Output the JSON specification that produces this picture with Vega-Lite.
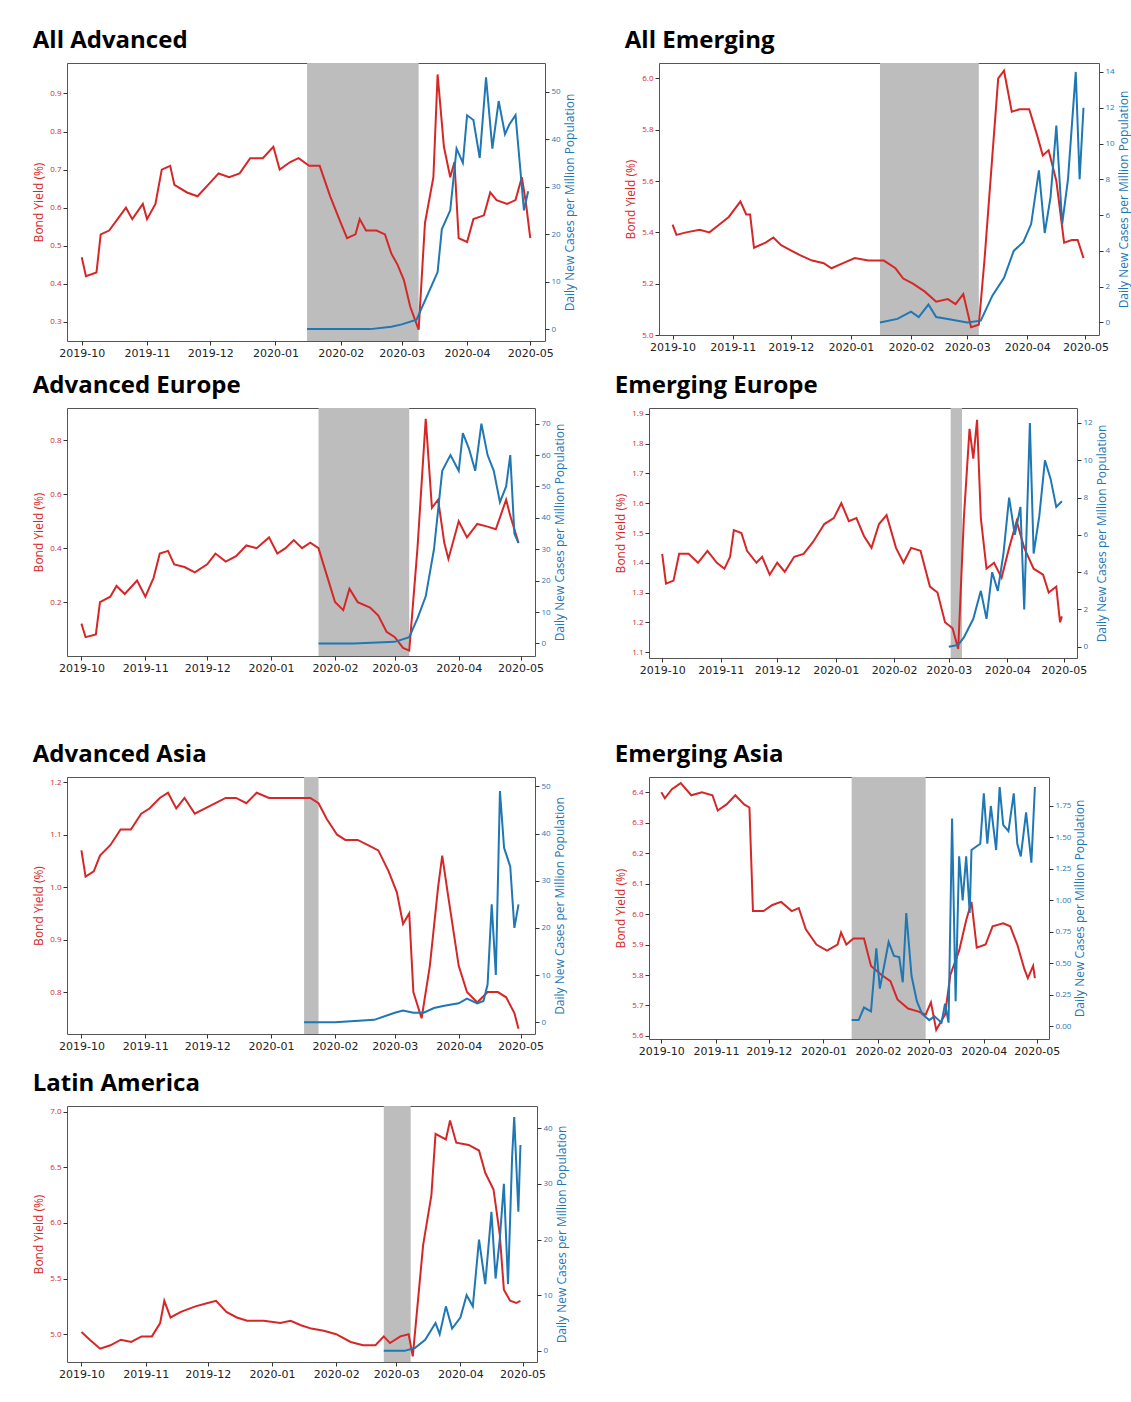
{
  "$schema": "https://vega.github.io/schema/vega-lite/v6.json",
  "padding": {"left": 32, "top": 28, "right": 5, "bottom": 5},
  "datasets": {
    "AA_y": [{"d":"2019-10-01","v":0.47},{"d":"2019-10-03","v":0.42},{"d":"2019-10-08","v":0.43},{"d":"2019-10-10","v":0.53},{"d":"2019-10-14","v":0.54},{"d":"2019-10-18","v":0.57},{"d":"2019-10-22","v":0.60},{"d":"2019-10-25","v":0.57},{"d":"2019-10-30","v":0.61},{"d":"2019-11-01","v":0.57},{"d":"2019-11-05","v":0.61},{"d":"2019-11-08","v":0.70},{"d":"2019-11-12","v":0.71},{"d":"2019-11-14","v":0.66},{"d":"2019-11-20","v":0.64},{"d":"2019-11-25","v":0.63},{"d":"2019-11-30","v":0.66},{"d":"2019-12-05","v":0.69},{"d":"2019-12-10","v":0.68},{"d":"2019-12-15","v":0.69},{"d":"2019-12-20","v":0.73},{"d":"2019-12-26","v":0.73},{"d":"2019-12-31","v":0.76},{"d":"2020-01-03","v":0.70},{"d":"2020-01-08","v":0.72},{"d":"2020-01-12","v":0.73},{"d":"2020-01-17","v":0.71},{"d":"2020-01-22","v":0.71},{"d":"2020-01-27","v":0.63},{"d":"2020-02-01","v":0.56},{"d":"2020-02-04","v":0.52},{"d":"2020-02-08","v":0.53},{"d":"2020-02-10","v":0.57},{"d":"2020-02-13","v":0.54},{"d":"2020-02-18","v":0.54},{"d":"2020-02-22","v":0.53},{"d":"2020-02-25","v":0.48},{"d":"2020-02-28","v":0.45},{"d":"2020-03-02","v":0.41},{"d":"2020-03-05","v":0.34},{"d":"2020-03-09","v":0.28},{"d":"2020-03-12","v":0.56},{"d":"2020-03-16","v":0.68},{"d":"2020-03-18","v":0.95},{"d":"2020-03-21","v":0.76},{"d":"2020-03-24","v":0.68},{"d":"2020-03-26","v":0.72},{"d":"2020-03-28","v":0.52},{"d":"2020-04-01","v":0.51},{"d":"2020-04-04","v":0.57},{"d":"2020-04-09","v":0.58},{"d":"2020-04-12","v":0.64},{"d":"2020-04-15","v":0.62},{"d":"2020-04-20","v":0.61},{"d":"2020-04-24","v":0.62},{"d":"2020-04-27","v":0.68},{"d":"2020-04-29","v":0.61},{"d":"2020-05-01","v":0.52}],
    "AA_c": [{"d":"2020-01-16","v":0},{"d":"2020-02-01","v":0},{"d":"2020-02-15","v":0},{"d":"2020-02-25","v":0.5},{"d":"2020-03-01","v":1},{"d":"2020-03-08","v":2},{"d":"2020-03-12","v":6},{"d":"2020-03-16","v":10},{"d":"2020-03-18","v":12},{"d":"2020-03-20","v":21},{"d":"2020-03-24","v":25},{"d":"2020-03-27","v":38},{"d":"2020-03-30","v":35},{"d":"2020-04-01","v":45},{"d":"2020-04-04","v":44},{"d":"2020-04-07","v":36},{"d":"2020-04-10","v":53},{"d":"2020-04-13","v":38},{"d":"2020-04-16","v":48},{"d":"2020-04-19","v":41},{"d":"2020-04-21","v":43},{"d":"2020-04-24","v":45},{"d":"2020-04-28","v":25},{"d":"2020-04-30","v":29}],
    "AE_y": [{"d":"2019-10-01","v":5.43},{"d":"2019-10-03","v":5.39},{"d":"2019-10-08","v":5.40},{"d":"2019-10-15","v":5.41},{"d":"2019-10-20","v":5.40},{"d":"2019-10-25","v":5.43},{"d":"2019-10-30","v":5.46},{"d":"2019-11-03","v":5.50},{"d":"2019-11-05","v":5.52},{"d":"2019-11-08","v":5.47},{"d":"2019-11-10","v":5.47},{"d":"2019-11-12","v":5.34},{"d":"2019-11-18","v":5.36},{"d":"2019-11-22","v":5.38},{"d":"2019-11-26","v":5.35},{"d":"2019-12-01","v":5.33},{"d":"2019-12-06","v":5.31},{"d":"2019-12-12","v":5.29},{"d":"2019-12-18","v":5.28},{"d":"2019-12-22","v":5.26},{"d":"2019-12-28","v":5.28},{"d":"2020-01-03","v":5.30},{"d":"2020-01-10","v":5.29},{"d":"2020-01-18","v":5.29},{"d":"2020-01-24","v":5.26},{"d":"2020-01-28","v":5.22},{"d":"2020-02-02","v":5.20},{"d":"2020-02-08","v":5.17},{"d":"2020-02-14","v":5.13},{"d":"2020-02-20","v":5.14},{"d":"2020-02-24","v":5.12},{"d":"2020-02-28","v":5.16},{"d":"2020-03-03","v":5.03},{"d":"2020-03-07","v":5.04},{"d":"2020-03-10","v":5.30},{"d":"2020-03-14","v":5.70},{"d":"2020-03-17","v":6.00},{"d":"2020-03-20","v":6.03},{"d":"2020-03-24","v":5.87},{"d":"2020-03-28","v":5.88},{"d":"2020-04-02","v":5.88},{"d":"2020-04-06","v":5.78},{"d":"2020-04-09","v":5.70},{"d":"2020-04-12","v":5.72},{"d":"2020-04-16","v":5.60},{"d":"2020-04-20","v":5.36},{"d":"2020-04-24","v":5.37},{"d":"2020-04-27","v":5.37},{"d":"2020-04-30","v":5.30}],
    "AE_c": [{"d":"2020-01-16","v":0},{"d":"2020-01-25","v":0.2},{"d":"2020-02-01","v":0.6},{"d":"2020-02-05","v":0.3},{"d":"2020-02-10","v":1},{"d":"2020-02-14","v":0.3},{"d":"2020-02-20","v":0.2},{"d":"2020-03-01","v":0},{"d":"2020-03-08","v":0.1},{"d":"2020-03-14","v":1.5},{"d":"2020-03-20","v":2.5},{"d":"2020-03-25","v":4},{"d":"2020-03-30","v":4.5},{"d":"2020-04-03","v":5.5},{"d":"2020-04-07","v":8.5},{"d":"2020-04-10","v":5},{"d":"2020-04-13","v":7},{"d":"2020-04-16","v":11},{"d":"2020-04-19","v":5.5},{"d":"2020-04-22","v":8},{"d":"2020-04-26","v":14},{"d":"2020-04-28","v":8},{"d":"2020-04-30","v":12}],
    "AEu_y": [{"d":"2019-10-01","v":0.12},{"d":"2019-10-03","v":0.07},{"d":"2019-10-08","v":0.08},{"d":"2019-10-10","v":0.20},{"d":"2019-10-15","v":0.22},{"d":"2019-10-18","v":0.26},{"d":"2019-10-22","v":0.23},{"d":"2019-10-28","v":0.28},{"d":"2019-11-01","v":0.22},{"d":"2019-11-05","v":0.29},{"d":"2019-11-08","v":0.38},{"d":"2019-11-12","v":0.39},{"d":"2019-11-15","v":0.34},{"d":"2019-11-20","v":0.33},{"d":"2019-11-25","v":0.31},{"d":"2019-12-01","v":0.34},{"d":"2019-12-05","v":0.38},{"d":"2019-12-10","v":0.35},{"d":"2019-12-15","v":0.37},{"d":"2019-12-20","v":0.41},{"d":"2019-12-25","v":0.40},{"d":"2019-12-31","v":0.44},{"d":"2020-01-04","v":0.38},{"d":"2020-01-08","v":0.40},{"d":"2020-01-12","v":0.43},{"d":"2020-01-16","v":0.40},{"d":"2020-01-20","v":0.42},{"d":"2020-01-24","v":0.40},{"d":"2020-01-28","v":0.30},{"d":"2020-02-01","v":0.20},{"d":"2020-02-05","v":0.17},{"d":"2020-02-08","v":0.25},{"d":"2020-02-12","v":0.20},{"d":"2020-02-18","v":0.18},{"d":"2020-02-22","v":0.15},{"d":"2020-02-26","v":0.09},{"d":"2020-03-01","v":0.07},{"d":"2020-03-05","v":0.03},{"d":"2020-03-08","v":0.02},{"d":"2020-03-12","v":0.40},{"d":"2020-03-16","v":0.88},{"d":"2020-03-19","v":0.55},{"d":"2020-03-22","v":0.58},{"d":"2020-03-25","v":0.42},{"d":"2020-03-27","v":0.36},{"d":"2020-04-01","v":0.50},{"d":"2020-04-05","v":0.44},{"d":"2020-04-10","v":0.49},{"d":"2020-04-15","v":0.48},{"d":"2020-04-19","v":0.47},{"d":"2020-04-24","v":0.58},{"d":"2020-04-26","v":0.52},{"d":"2020-04-30","v":0.42}],
    "AEu_c": [{"d":"2020-01-24","v":0},{"d":"2020-02-10","v":0},{"d":"2020-03-01","v":0.5},{"d":"2020-03-08","v":2},{"d":"2020-03-12","v":8},{"d":"2020-03-16","v":15},{"d":"2020-03-20","v":30},{"d":"2020-03-24","v":55},{"d":"2020-03-28","v":60},{"d":"2020-04-01","v":55},{"d":"2020-04-03","v":67},{"d":"2020-04-06","v":62},{"d":"2020-04-09","v":55},{"d":"2020-04-12","v":70},{"d":"2020-04-15","v":60},{"d":"2020-04-18","v":55},{"d":"2020-04-21","v":45},{"d":"2020-04-24","v":50},{"d":"2020-04-26","v":60},{"d":"2020-04-28","v":35},{"d":"2020-04-30","v":32}],
    "EEu_y": [{"d":"2019-10-01","v":1.43},{"d":"2019-10-03","v":1.33},{"d":"2019-10-07","v":1.34},{"d":"2019-10-10","v":1.43},{"d":"2019-10-15","v":1.43},{"d":"2019-10-20","v":1.40},{"d":"2019-10-25","v":1.44},{"d":"2019-10-30","v":1.40},{"d":"2019-11-03","v":1.38},{"d":"2019-11-06","v":1.42},{"d":"2019-11-08","v":1.51},{"d":"2019-11-12","v":1.50},{"d":"2019-11-15","v":1.44},{"d":"2019-11-20","v":1.40},{"d":"2019-11-23","v":1.42},{"d":"2019-11-27","v":1.36},{"d":"2019-12-01","v":1.40},{"d":"2019-12-05","v":1.37},{"d":"2019-12-10","v":1.42},{"d":"2019-12-15","v":1.43},{"d":"2019-12-20","v":1.47},{"d":"2019-12-26","v":1.53},{"d":"2019-12-31","v":1.55},{"d":"2020-01-04","v":1.60},{"d":"2020-01-08","v":1.54},{"d":"2020-01-12","v":1.55},{"d":"2020-01-16","v":1.49},{"d":"2020-01-20","v":1.45},{"d":"2020-01-24","v":1.53},{"d":"2020-01-28","v":1.56},{"d":"2020-02-02","v":1.45},{"d":"2020-02-06","v":1.40},{"d":"2020-02-10","v":1.45},{"d":"2020-02-15","v":1.44},{"d":"2020-02-20","v":1.32},{"d":"2020-02-24","v":1.30},{"d":"2020-02-28","v":1.20},{"d":"2020-03-03","v":1.18},{"d":"2020-03-06","v":1.11},{"d":"2020-03-09","v":1.55},{"d":"2020-03-12","v":1.85},{"d":"2020-03-14","v":1.75},{"d":"2020-03-16","v":1.88},{"d":"2020-03-18","v":1.55},{"d":"2020-03-21","v":1.38},{"d":"2020-03-25","v":1.40},{"d":"2020-03-29","v":1.35},{"d":"2020-04-02","v":1.45},{"d":"2020-04-06","v":1.54},{"d":"2020-04-10","v":1.45},{"d":"2020-04-15","v":1.38},{"d":"2020-04-20","v":1.36},{"d":"2020-04-23","v":1.30},{"d":"2020-04-27","v":1.32},{"d":"2020-04-29","v":1.20},{"d":"2020-04-30","v":1.22}],
    "EEu_c": [{"d":"2020-03-01","v":0},{"d":"2020-03-06","v":0.1},{"d":"2020-03-09","v":0.5},{"d":"2020-03-14","v":1.5},{"d":"2020-03-18","v":3},{"d":"2020-03-21","v":1.5},{"d":"2020-03-24","v":4},{"d":"2020-03-27","v":3},{"d":"2020-03-30","v":5},{"d":"2020-04-02","v":8},{"d":"2020-04-05","v":6},{"d":"2020-04-08","v":7.5},{"d":"2020-04-10","v":2},{"d":"2020-04-13","v":12},{"d":"2020-04-15","v":5},{"d":"2020-04-18","v":7},{"d":"2020-04-21","v":10},{"d":"2020-04-24","v":9},{"d":"2020-04-27","v":7.5},{"d":"2020-04-30","v":7.8}],
    "AAs_y": [{"d":"2019-10-01","v":1.07},{"d":"2019-10-03","v":1.02},{"d":"2019-10-07","v":1.03},{"d":"2019-10-10","v":1.06},{"d":"2019-10-15","v":1.08},{"d":"2019-10-20","v":1.11},{"d":"2019-10-25","v":1.11},{"d":"2019-10-30","v":1.14},{"d":"2019-11-03","v":1.15},{"d":"2019-11-08","v":1.17},{"d":"2019-11-12","v":1.18},{"d":"2019-11-16","v":1.15},{"d":"2019-11-20","v":1.17},{"d":"2019-11-25","v":1.14},{"d":"2019-11-30","v":1.15},{"d":"2019-12-05","v":1.16},{"d":"2019-12-10","v":1.17},{"d":"2019-12-15","v":1.17},{"d":"2019-12-20","v":1.16},{"d":"2019-12-25","v":1.18},{"d":"2019-12-31","v":1.17},{"d":"2020-01-05","v":1.17},{"d":"2020-01-10","v":1.17},{"d":"2020-01-15","v":1.17},{"d":"2020-01-20","v":1.17},{"d":"2020-01-24","v":1.16},{"d":"2020-01-28","v":1.13},{"d":"2020-02-02","v":1.10},{"d":"2020-02-06","v":1.09},{"d":"2020-02-12","v":1.09},{"d":"2020-02-17","v":1.08},{"d":"2020-02-22","v":1.07},{"d":"2020-02-27","v":1.03},{"d":"2020-03-02","v":0.99},{"d":"2020-03-05","v":0.93},{"d":"2020-03-08","v":0.95},{"d":"2020-03-10","v":0.80},{"d":"2020-03-14","v":0.75},{"d":"2020-03-18","v":0.85},{"d":"2020-03-22","v":1.00},{"d":"2020-03-24","v":1.06},{"d":"2020-03-27","v":0.98},{"d":"2020-04-01","v":0.85},{"d":"2020-04-05","v":0.80},{"d":"2020-04-10","v":0.78},{"d":"2020-04-15","v":0.80},{"d":"2020-04-20","v":0.80},{"d":"2020-04-24","v":0.79},{"d":"2020-04-28","v":0.76},{"d":"2020-04-30","v":0.73}],
    "AAs_c": [{"d":"2020-01-17","v":0},{"d":"2020-02-01","v":0},{"d":"2020-02-20","v":0.5},{"d":"2020-03-01","v":2},{"d":"2020-03-05","v":2.5},{"d":"2020-03-10","v":2},{"d":"2020-03-15","v":2},{"d":"2020-03-20","v":3},{"d":"2020-03-25","v":3.5},{"d":"2020-04-01","v":4},{"d":"2020-04-05","v":5},{"d":"2020-04-10","v":4},{"d":"2020-04-13","v":4.5},{"d":"2020-04-15","v":8},{"d":"2020-04-17","v":25},{"d":"2020-04-19","v":10},{"d":"2020-04-21","v":49},{"d":"2020-04-23","v":37},{"d":"2020-04-26","v":33},{"d":"2020-04-28","v":20},{"d":"2020-04-30","v":25}],
    "EAs_y": [{"d":"2019-10-01","v":6.40},{"d":"2019-10-03","v":6.38},{"d":"2019-10-07","v":6.41},{"d":"2019-10-12","v":6.43},{"d":"2019-10-18","v":6.39},{"d":"2019-10-24","v":6.40},{"d":"2019-10-30","v":6.39},{"d":"2019-11-02","v":6.34},{"d":"2019-11-07","v":6.36},{"d":"2019-11-12","v":6.39},{"d":"2019-11-17","v":6.36},{"d":"2019-11-20","v":6.35},{"d":"2019-11-22","v":6.01},{"d":"2019-11-28","v":6.01},{"d":"2019-12-03","v":6.03},{"d":"2019-12-08","v":6.04},{"d":"2019-12-14","v":6.01},{"d":"2019-12-18","v":6.02},{"d":"2019-12-22","v":5.95},{"d":"2019-12-28","v":5.90},{"d":"2020-01-03","v":5.88},{"d":"2020-01-09","v":5.90},{"d":"2020-01-11","v":5.94},{"d":"2020-01-14","v":5.90},{"d":"2020-01-18","v":5.92},{"d":"2020-01-24","v":5.92},{"d":"2020-01-28","v":5.83},{"d":"2020-02-03","v":5.80},{"d":"2020-02-08","v":5.78},{"d":"2020-02-12","v":5.72},{"d":"2020-02-18","v":5.69},{"d":"2020-02-24","v":5.68},{"d":"2020-02-28","v":5.67},{"d":"2020-03-02","v":5.71},{"d":"2020-03-05","v":5.62},{"d":"2020-03-10","v":5.67},{"d":"2020-03-13","v":5.80},{"d":"2020-03-18","v":5.88},{"d":"2020-03-22","v":5.98},{"d":"2020-03-25","v":6.04},{"d":"2020-03-28","v":5.89},{"d":"2020-04-02","v":5.90},{"d":"2020-04-06","v":5.96},{"d":"2020-04-12","v":5.97},{"d":"2020-04-16","v":5.96},{"d":"2020-04-20","v":5.90},{"d":"2020-04-24","v":5.82},{"d":"2020-04-26","v":5.79},{"d":"2020-04-29","v":5.83},{"d":"2020-04-30","v":5.79}],
    "EAs_c": [{"d":"2020-01-17","v":0.05},{"d":"2020-01-21","v":0.05},{"d":"2020-01-24","v":0.15},{"d":"2020-01-28","v":0.12},{"d":"2020-01-31","v":0.62},{"d":"2020-02-02","v":0.3},{"d":"2020-02-07","v":0.67},{"d":"2020-02-10","v":0.56},{"d":"2020-02-13","v":0.55},{"d":"2020-02-15","v":0.35},{"d":"2020-02-17","v":0.9},{"d":"2020-02-20","v":0.4},{"d":"2020-02-23","v":0.2},{"d":"2020-02-26","v":0.1},{"d":"2020-03-01","v":0.05},{"d":"2020-03-04","v":0.08},{"d":"2020-03-08","v":0.03},{"d":"2020-03-10","v":0.18},{"d":"2020-03-12","v":0.03},{"d":"2020-03-14","v":1.65},{"d":"2020-03-16","v":0.2},{"d":"2020-03-18","v":1.35},{"d":"2020-03-20","v":1.0},{"d":"2020-03-22","v":1.35},{"d":"2020-03-24","v":0.9},{"d":"2020-03-25","v":1.4},{"d":"2020-03-30","v":1.45},{"d":"2020-04-01","v":1.85},{"d":"2020-04-03","v":1.45},{"d":"2020-04-05","v":1.75},{"d":"2020-04-08","v":1.4},{"d":"2020-04-10","v":1.9},{"d":"2020-04-12","v":1.6},{"d":"2020-04-15","v":1.55},{"d":"2020-04-18","v":1.85},{"d":"2020-04-20","v":1.45},{"d":"2020-04-22","v":1.35},{"d":"2020-04-25","v":1.7},{"d":"2020-04-28","v":1.3},{"d":"2020-04-30","v":1.9}],
    "LA_y": [{"d":"2019-10-01","v":5.02},{"d":"2019-10-05","v":4.95},{"d":"2019-10-10","v":4.87},{"d":"2019-10-15","v":4.90},{"d":"2019-10-20","v":4.95},{"d":"2019-10-25","v":4.93},{"d":"2019-10-30","v":4.98},{"d":"2019-11-04","v":4.98},{"d":"2019-11-08","v":5.10},{"d":"2019-11-10","v":5.30},{"d":"2019-11-13","v":5.15},{"d":"2019-11-18","v":5.20},{"d":"2019-11-25","v":5.25},{"d":"2019-12-01","v":5.28},{"d":"2019-12-05","v":5.30},{"d":"2019-12-10","v":5.20},{"d":"2019-12-15","v":5.15},{"d":"2019-12-20","v":5.12},{"d":"2019-12-28","v":5.12},{"d":"2020-01-05","v":5.10},{"d":"2020-01-10","v":5.12},{"d":"2020-01-15","v":5.08},{"d":"2020-01-20","v":5.05},{"d":"2020-01-26","v":5.03},{"d":"2020-02-01","v":5.00},{"d":"2020-02-08","v":4.93},{"d":"2020-02-14","v":4.90},{"d":"2020-02-20","v":4.90},{"d":"2020-02-24","v":4.98},{"d":"2020-02-27","v":4.92},{"d":"2020-03-03","v":4.98},{"d":"2020-03-07","v":5.00},{"d":"2020-03-09","v":4.80},{"d":"2020-03-14","v":5.80},{"d":"2020-03-18","v":6.25},{"d":"2020-03-20","v":6.80},{"d":"2020-03-25","v":6.75},{"d":"2020-03-27","v":6.92},{"d":"2020-03-30","v":6.72},{"d":"2020-04-05","v":6.70},{"d":"2020-04-10","v":6.65},{"d":"2020-04-13","v":6.45},{"d":"2020-04-17","v":6.30},{"d":"2020-04-20","v":5.90},{"d":"2020-04-22","v":5.40},{"d":"2020-04-25","v":5.30},{"d":"2020-04-28","v":5.28},{"d":"2020-04-30","v":5.30}],
    "LA_c": [{"d":"2020-02-24","v":0},{"d":"2020-03-05","v":0},{"d":"2020-03-10","v":0.5},{"d":"2020-03-15","v":2},{"d":"2020-03-20","v":5},{"d":"2020-03-22","v":3},{"d":"2020-03-25","v":8},{"d":"2020-03-28","v":4},{"d":"2020-04-01","v":6},{"d":"2020-04-04","v":10},{"d":"2020-04-07","v":8},{"d":"2020-04-10","v":20},{"d":"2020-04-13","v":12},{"d":"2020-04-16","v":25},{"d":"2020-04-18","v":13},{"d":"2020-04-20","v":20},{"d":"2020-04-22","v":30},{"d":"2020-04-24","v":12},{"d":"2020-04-26","v":35},{"d":"2020-04-27","v":42},{"d":"2020-04-29","v":25},{"d":"2020-04-30","v":37}]
  },
  "config": {
    "font": "Open Sans",
    "view": {"stroke": "#555", "strokeWidth": 1},
    "axis": {"grid": false, "domain": false, "tickColor": "#333", "tickSize": 4, "titleFontWeight": "normal"},
    "axisRight": {"titleAngle": 270, "titleBaseline": "top"},
    "axisX": {"labelFontSize": 11, "labelColor": "#222", "format": "%Y-%m", "tickCount": {"interval": "month", "step": 1}, "title": null, "labelFont": "DejaVu Sans"},
    "title": {"fontSize": 24, "fontWeight": "bold", "anchor": "start", "frame": "bounds", "offset": 10, "font": "Open Sans"},
    "line": {"strokeWidth": 2},
    "concat": {"spacing": 48}
  },
  "vconcat": [
    {
      "spacing": 14,
      "vconcat": [
        {"hconcat": [
          {"title": "All Advanced", "width": 478, "height": 278, "resolve": {"scale": {"y": "independent"}}, "layer": [
            {"data": {"values": [{"s": "2020-01-16", "e": "2020-03-09"}]}, "mark": {"type": "rect", "color": "#bdbdbd"}, "encoding": {"x": {"field": "s", "type": "temporal", "scale": {"domain": ["2019-09-24", "2020-05-08"]}}, "x2": {"field": "e"}}},
            {"data": {"name": "AA_y"}, "mark": {"type": "line", "color": "#d62728"}, "encoding": {"x": {"field": "d", "type": "temporal"}, "y": {"field": "v", "type": "quantitative", "scale": {"domain": [0.25, 0.98], "zero": false}, "axis": {"orient": "left", "title": "Bond Yield (%)", "labelColor": "#d62728", "titleColor": "#d62728", "labelFontSize": 8, "titleFontSize": 12, "values": [0.3,0.4,0.5,0.6,0.7,0.8,0.9]}}}},
            {"data": {"name": "AA_c"}, "mark": {"type": "line", "color": "#1f77b4"}, "encoding": {"x": {"field": "d", "type": "temporal"}, "y": {"field": "v", "type": "quantitative", "scale": {"domain": [-2.5, 56]}, "axis": {"orient": "right", "title": "Daily New Cases per Million Population", "labelColor": "#1f77b4", "titleColor": "#1f77b4", "labelFontSize": 8, "titleFontSize": 12, "values": [0,10,20,30,40,50]}}}}
          ]},
          {"title": "All Emerging", "width": 440, "height": 272, "resolve": {"scale": {"y": "independent"}}, "layer": [
            {"data": {"values": [{"s": "2020-01-16", "e": "2020-03-07"}]}, "mark": {"type": "rect", "color": "#bdbdbd"}, "encoding": {"x": {"field": "s", "type": "temporal", "scale": {"domain": ["2019-09-24", "2020-05-08"]}}, "x2": {"field": "e"}}},
            {"data": {"name": "AE_y"}, "mark": {"type": "line", "color": "#d62728"}, "encoding": {"x": {"field": "d", "type": "temporal"}, "y": {"field": "v", "type": "quantitative", "scale": {"domain": [5.0, 6.06], "zero": false}, "axis": {"orient": "left", "title": "Bond Yield (%)", "labelColor": "#d62728", "titleColor": "#d62728", "labelFontSize": 8, "titleFontSize": 12, "values": [5.0,5.2,5.4,5.6,5.8,6.0], "format": ".1f"}}}},
            {"data": {"name": "AE_c"}, "mark": {"type": "line", "color": "#1f77b4"}, "encoding": {"x": {"field": "d", "type": "temporal"}, "y": {"field": "v", "type": "quantitative", "scale": {"domain": [-0.7, 14.5]}, "axis": {"orient": "right", "title": "Daily New Cases per Million Population", "labelColor": "#1f77b4", "titleColor": "#1f77b4", "labelFontSize": 8, "titleFontSize": 12, "values": [0,2,4,6,8,10,12,14]}}}}
          ]}
        ]},
        {"hconcat": [
          {"title": "Advanced Europe", "width": 468, "height": 248, "resolve": {"scale": {"y": "independent"}}, "layer": [
            {"data": {"values": [{"s": "2020-01-24", "e": "2020-03-08"}]}, "mark": {"type": "rect", "color": "#bdbdbd"}, "encoding": {"x": {"field": "s", "type": "temporal", "scale": {"domain": ["2019-09-24", "2020-05-08"]}}, "x2": {"field": "e"}}},
            {"data": {"name": "AEu_y"}, "mark": {"type": "line", "color": "#d62728"}, "encoding": {"x": {"field": "d", "type": "temporal"}, "y": {"field": "v", "type": "quantitative", "scale": {"domain": [0.0, 0.92], "zero": false}, "axis": {"orient": "left", "title": "Bond Yield (%)", "labelColor": "#d62728", "titleColor": "#d62728", "labelFontSize": 8, "titleFontSize": 12, "values": [0.2,0.4,0.6,0.8]}}}},
            {"data": {"name": "AEu_c"}, "mark": {"type": "line", "color": "#1f77b4"}, "encoding": {"x": {"field": "d", "type": "temporal"}, "y": {"field": "v", "type": "quantitative", "scale": {"domain": [-4, 75]}, "axis": {"orient": "right", "title": "Daily New Cases per Million Population", "labelColor": "#1f77b4", "titleColor": "#1f77b4", "labelFontSize": 8, "titleFontSize": 12, "values": [0,10,20,30,40,50,60,70]}}}}
          ]},
          {"title": "Emerging Europe", "width": 428, "height": 250, "resolve": {"scale": {"y": "independent"}}, "layer": [
            {"data": {"values": [{"s": "2020-03-02", "e": "2020-03-08"}]}, "mark": {"type": "rect", "color": "#bdbdbd"}, "encoding": {"x": {"field": "s", "type": "temporal", "scale": {"domain": ["2019-09-24", "2020-05-08"]}}, "x2": {"field": "e"}}},
            {"data": {"name": "EEu_y"}, "mark": {"type": "line", "color": "#d62728"}, "encoding": {"x": {"field": "d", "type": "temporal"}, "y": {"field": "v", "type": "quantitative", "scale": {"domain": [1.08, 1.92], "zero": false}, "axis": {"orient": "left", "title": "Bond Yield (%)", "labelColor": "#d62728", "titleColor": "#d62728", "labelFontSize": 8, "titleFontSize": 12, "values": [1.1,1.2,1.3,1.4,1.5,1.6,1.7,1.8,1.9]}}}},
            {"data": {"name": "EEu_c"}, "mark": {"type": "line", "color": "#1f77b4"}, "encoding": {"x": {"field": "d", "type": "temporal"}, "y": {"field": "v", "type": "quantitative", "scale": {"domain": [-0.6, 12.8]}, "axis": {"orient": "right", "title": "Daily New Cases per Million Population", "labelColor": "#1f77b4", "titleColor": "#1f77b4", "labelFontSize": 8, "titleFontSize": 12, "values": [0,2,4,6,8,10,12]}}}}
          ]}
        ]}
      ]
    },
    {
      "spacing": 14,
      "vconcat": [
        {"hconcat": [
          {"title": "Advanced Asia", "width": 468, "height": 257, "resolve": {"scale": {"y": "independent"}}, "layer": [
            {"data": {"values": [{"s": "2020-01-17", "e": "2020-01-24"}]}, "mark": {"type": "rect", "color": "#bdbdbd"}, "encoding": {"x": {"field": "s", "type": "temporal", "scale": {"domain": ["2019-09-24", "2020-05-08"]}}, "x2": {"field": "e"}}},
            {"data": {"name": "AAs_y"}, "mark": {"type": "line", "color": "#d62728"}, "encoding": {"x": {"field": "d", "type": "temporal"}, "y": {"field": "v", "type": "quantitative", "scale": {"domain": [0.72, 1.21], "zero": false}, "axis": {"orient": "left", "title": "Bond Yield (%)", "labelColor": "#d62728", "titleColor": "#d62728", "labelFontSize": 8, "titleFontSize": 12, "values": [0.8,0.9,1.0,1.1,1.2], "format": ".1f"}}}},
            {"data": {"name": "AAs_c"}, "mark": {"type": "line", "color": "#1f77b4"}, "encoding": {"x": {"field": "d", "type": "temporal"}, "y": {"field": "v", "type": "quantitative", "scale": {"domain": [-2.5, 52]}, "axis": {"orient": "right", "title": "Daily New Cases per Million Population", "labelColor": "#1f77b4", "titleColor": "#1f77b4", "labelFontSize": 8, "titleFontSize": 12, "values": [0,10,20,30,40,50]}}}}
          ]},
          {"title": "Emerging Asia", "width": 400, "height": 262, "resolve": {"scale": {"y": "independent"}}, "layer": [
            {"data": {"values": [{"s": "2020-01-17", "e": "2020-02-28"}]}, "mark": {"type": "rect", "color": "#bdbdbd"}, "encoding": {"x": {"field": "s", "type": "temporal", "scale": {"domain": ["2019-09-24", "2020-05-08"]}}, "x2": {"field": "e"}}},
            {"data": {"name": "EAs_y"}, "mark": {"type": "line", "color": "#d62728"}, "encoding": {"x": {"field": "d", "type": "temporal"}, "y": {"field": "v", "type": "quantitative", "scale": {"domain": [5.59, 6.45], "zero": false}, "axis": {"orient": "left", "title": "Bond Yield (%)", "labelColor": "#d62728", "titleColor": "#d62728", "labelFontSize": 8, "titleFontSize": 12, "values": [5.6,5.7,5.8,5.9,6.0,6.1,6.2,6.3,6.4], "format": ".1f"}}}},
            {"data": {"name": "EAs_c"}, "mark": {"type": "line", "color": "#1f77b4"}, "encoding": {"x": {"field": "d", "type": "temporal"}, "y": {"field": "v", "type": "quantitative", "scale": {"domain": [-0.1, 1.98]}, "axis": {"orient": "right", "title": "Daily New Cases per Million Population", "labelColor": "#1f77b4", "titleColor": "#1f77b4", "labelFontSize": 8, "titleFontSize": 12, "values": [0,0.25,0.5,0.75,1.0,1.25,1.5,1.75], "format": ".2f"}}}}
          ]}
        ]},
        {"hconcat": [
          {"title": "Latin America", "width": 470, "height": 256, "resolve": {"scale": {"y": "independent"}}, "layer": [
            {"data": {"values": [{"s": "2020-02-24", "e": "2020-03-08"}]}, "mark": {"type": "rect", "color": "#bdbdbd"}, "encoding": {"x": {"field": "s", "type": "temporal", "scale": {"domain": ["2019-09-24", "2020-05-08"]}}, "x2": {"field": "e"}}},
            {"data": {"name": "LA_y"}, "mark": {"type": "line", "color": "#d62728"}, "encoding": {"x": {"field": "d", "type": "temporal"}, "y": {"field": "v", "type": "quantitative", "scale": {"domain": [4.75, 7.05], "zero": false}, "axis": {"orient": "left", "title": "Bond Yield (%)", "labelColor": "#d62728", "titleColor": "#d62728", "labelFontSize": 8, "titleFontSize": 12, "values": [5.0,5.5,6.0,6.5,7.0], "format": ".1f"}}}},
            {"data": {"name": "LA_c"}, "mark": {"type": "line", "color": "#1f77b4"}, "encoding": {"x": {"field": "d", "type": "temporal"}, "y": {"field": "v", "type": "quantitative", "scale": {"domain": [-2, 44]}, "axis": {"orient": "right", "title": "Daily New Cases per Million Population", "labelColor": "#1f77b4", "titleColor": "#1f77b4", "labelFontSize": 8, "titleFontSize": 12, "values": [0,10,20,30,40]}}}}
          ]}
        ]}
      ]
    }
  ],
  "spacing": 66
}
